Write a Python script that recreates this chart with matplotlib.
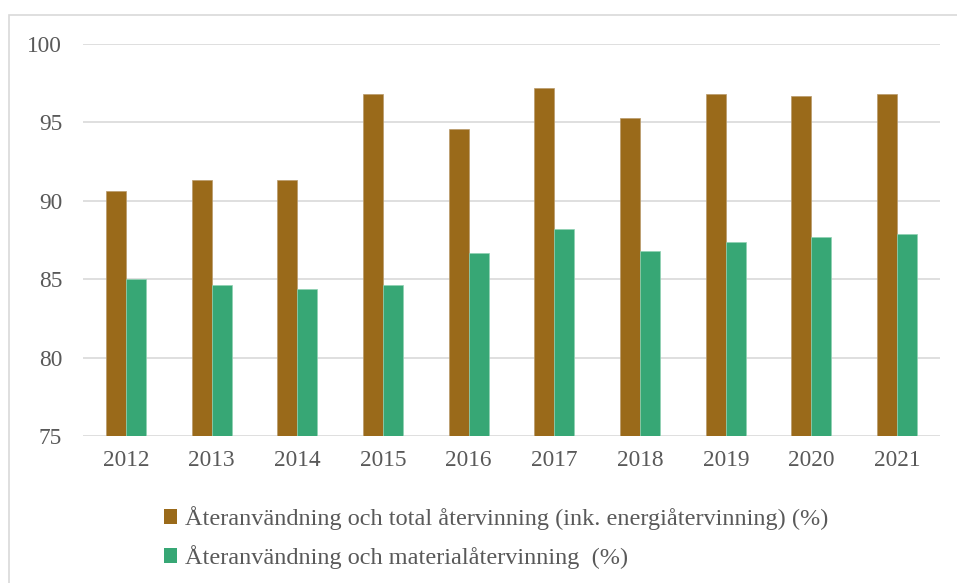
import matplotlib
matplotlib.use("Agg")
import matplotlib.pyplot as plt
from matplotlib.patches import Rectangle, Patch
import numpy as np

years = ["2012", "2013", "2014", "2015", "2016", "2017", "2018", "2019", "2020", "2021"]
total = [90.6, 91.3, 91.3, 96.8, 94.6, 97.2, 95.3, 96.8, 96.7, 96.8]
material = [85.0, 84.6, 84.4, 84.6, 86.7, 88.2, 86.8, 87.4, 87.7, 87.9]
labels = ["Återanvändning och total återvinning (ink. energiåtervinning) (%)",
          "Återanvändning och materialåtervinning  (%)"]

brown = "#9A6A1A"
green = "#37A775"
txt = "#595959"

plt.rcParams['font.family'] = ['Liberation Serif', 'DejaVu Serif']

fig = plt.figure(figsize=(9.57, 5.83), dpi=100)
fig.patches.append(Rectangle((9/957, -0.01), 1.1, 1 - 15/583 + 0.01, transform=fig.transFigure,
                             fill=False, edgecolor="#D9D9D9", linewidth=1.2))
ax = fig.add_axes([83/957, 1 - 436/583, (940 - 83)/957, (436 - 44)/583])

x = np.arange(len(years))
w = 0.233
ax.bar(x - w/2, total, w, color=brown, edgecolor="#B89A6A", linewidth=0.5, zorder=3)
ax.bar(x + w/2, material, w, color=green, edgecolor="#8FD1B2", linewidth=0.5, zorder=3)

ax.set_ylim(75, 100)
ax.set_xlim(-0.5, len(years) - 0.5)
ax.set_yticks([75, 80, 85, 90, 95, 100])
ax.set_xticks(x)
ax.set_xticklabels(years)
ax.yaxis.grid(True, color="#D9D9D9", linewidth=1.2, zorder=0)
ax.set_axisbelow(True)
for s in ax.spines.values():
    s.set_visible(False)
ax.tick_params(length=0, labelsize=16.8, labelcolor=txt)
ax.tick_params(axis='y', pad=15)
ax.tick_params(axis='x', pad=10)

handles = [Patch(facecolor=brown), Patch(facecolor=green)]
leg = fig.legend(handles, labels, loc="upper left", bbox_to_anchor=(142/957, 1 - 484/583),
                 frameon=False, fontsize=17.5, labelcolor=txt, handlelength=0.55, handleheight=0.55,
                 handletextpad=0.3, labelspacing=0.62)

fig.savefig("out.png", dpi=100)
